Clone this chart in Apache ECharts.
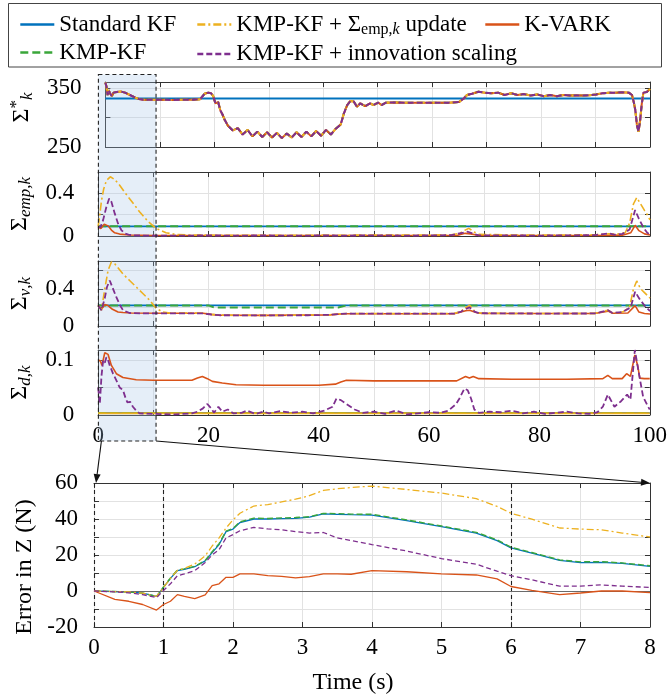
<!DOCTYPE html>
<html><head><meta charset="utf-8">
<script src="https://cdn.jsdelivr.net/npm/echarts@6/dist/echarts.min.js"></script>
<style>html,body{margin:0;padding:0;background:#fff}#c{width:670px;height:696px}</style>
</head><body><div id="c"></div><script>
const N_KF = 'Standard KF', N_Y = 'KMP-KF + Σemp,k update', N_O = 'K-VARK', N_G = 'KMP-KF', N_P = 'KMP-KF + innovation scaling';
const tConst = [0, 100];
const starKF = [332, 332];
const tStar = [0,0.2,0.4,0.6,0.9,1.2,1.5,2.1,2.8,3.6,4.5,5.4,6.2,6.9,8,10,12,14,16,17.4,18.2,18.9,19.4,19.8,20.2,20.7,21.1,21.5,21.9,22.5,23.4,24.3,25.2,26.1,27,27.9,28.8,29.7,30.6,31.5,32.4,33.3,34.2,35.1,36,36.9,37.8,38.7,39.6,40.5,41.4,42.3,43.2,43.8,44.4,45,45.6,46.2,46.8,47.7,48.6,49.2,50.1,50.7,51.5,53,55,57,59,61,63,64.9,65.8,66.4,67.3,68.5,69.7,70.9,72.1,73.3,74.5,75.7,76.9,78.1,79.3,80.5,81.7,82.9,84.1,85.3,86.5,87.7,88.9,90.1,91.3,92.5,93.7,94.9,96.1,96.7,97,97.3,97.6,97.9,98.2,98.5,98.8,99.4,100];
const starKMP = [359,352,338,346,340,336,342,343,344,342,338,334,331,330,330,330,329.5,330,330,331,340,342,341,336,324,326,312,305,296,286,278,282,271,279,268,276,267,275,266,274,265,273,266,275,267,276,268,277,269,279,271,281,288,307,321,328,327,318,324,319,324,321,325,321,325,325.5,325,325,325,325,325,326,332,338,340,343.6,342,341,342,338,341,338,339.5,337,339,336,338,336,338,337,337.5,337,337.5,339,341,342,342,342.5,342,338,326.7,312.6,287,276,296,324,342,343,348];
const empKF = [0.09, 0.09];
const empKMP = [0.092, 0.092];
const tEmpY = [0,0.3,0.6,1,1.5,2.2,3,3.9,4.8,5.7,6.6,7.5,8.3,9.1,10.5,12.3,14,16,20,25,30,35,40,45,50,55,60,64,65.5,66.5,67.2,68,69,75,80,85,90,92.5,94,95.5,96.3,97,97.6,98.3,99,99.5,100];
const empY = [0.09,0.2,0.33,0.44,0.52,0.555,0.53,0.476,0.41,0.35,0.29,0.227,0.18,0.133,0.072,0.03,0.015,0.01,0.008,0.006,0.007,0.006,0.008,0.007,0.01,0.008,0.009,0.012,0.025,0.055,0.072,0.04,0.015,0.01,0.008,0.01,0.012,0.02,0.018,0.03,0.12,0.3,0.36,0.3,0.24,0.2,0.15];
const tEmpP = [0,0.4,0.9,1.5,2.0,2.4,3.0,3.6,4.2,4.8,5.5,6.5,8,12,16,20,25,30,35,40,45,50,55,60,64,66,67,68,69,75,80,85,90,92.5,93.5,95,96.3,97.3,98,98.8,99.5,100];
const empP = [0.09,0.08,0.149,0.274,0.351,0.32,0.212,0.118,0.056,0.025,0.012,0.006,0.004,0.003,0.004,0.005,0.004,0.005,0.003,0.005,0.004,0.006,0.004,0.005,0.008,0.03,0.04,0.02,0.006,0.005,0.004,0.006,0.008,0.025,0.012,0.02,0.06,0.243,0.16,0.08,0.03,0.015];
const tEmpO = [0,0.5,1.1,1.8,2.4,3.0,3.9,5.7,10,20,30,40,50,60,65,66.5,67.5,69,80,90,95,96.5,97.3,98,99,100];
const empO = [0.087,0.07,0.11,0.095,0.056,0.03,0.018,0.009,0.005,0.004,0.004,0.004,0.004,0.004,0.005,0.025,0.02,0.005,0.004,0.005,0.008,0.03,0.1,0.05,0.02,0.01];
const nuKF = [0.222, 0.222];
const tNuG = [0, 20, 21, 43.5, 45, 100];
const nuG = [0.222, 0.222, 0.2, 0.2, 0.222, 0.222];
const tNuY = [0,0.6,1.2,1.8,2.4,3,4.5,5.7,6.9,8.1,9.3,10.5,11.7,13,16,19,20.5,22,26,30,34,38,42,43.5,45,50,55,60,64.5,65.8,66.6,67.3,68.2,69,75,80,85,90,92.4,93.2,95,96.3,97,97.6,98.3,99,99.5,100];
const nuY = [0.222,0.17,0.4,0.6,0.69,0.67,0.56,0.49,0.42,0.35,0.28,0.19,0.15,0.14,0.14,0.138,0.125,0.117,0.116,0.114,0.115,0.117,0.12,0.128,0.135,0.134,0.133,0.133,0.135,0.16,0.2,0.223,0.16,0.14,0.135,0.134,0.134,0.136,0.17,0.14,0.15,0.2,0.4,0.485,0.4,0.36,0.33,0.3];
const tNuP = [0,0.6,1.2,1.6,2.1,2.7,3.3,3.9,4.5,5.7,8,13,19,20.5,22,30,38,42,43.5,45,55,64.5,65.8,66.6,67.3,68.2,69,80,90,92.4,93.2,95,96.5,97.3,98,99,100];
const nuP = [0.222,0.17,0.3,0.42,0.49,0.4,0.31,0.23,0.17,0.14,0.135,0.135,0.136,0.124,0.116,0.114,0.116,0.12,0.128,0.134,0.133,0.134,0.155,0.185,0.2,0.155,0.138,0.134,0.135,0.17,0.14,0.15,0.2,0.37,0.3,0.22,0.16];
const tNuO = [0,0.6,1.2,1.8,2.6,3.6,4.5,6,13,19,20.5,22,30,42,43.5,45,64.5,66.6,67.3,68.5,69.5,90,92.4,93.2,96,97.3,98,99,100];
const nuO = [0.222,0.18,0.23,0.22,0.18,0.15,0.145,0.14,0.138,0.137,0.125,0.116,0.114,0.12,0.128,0.132,0.132,0.165,0.17,0.145,0.134,0.134,0.16,0.138,0.14,0.22,0.15,0.135,0.13];
const dKF = [0.0035, 0.0035];
const dKMP = [0.0035, 0.0035];
const dY = [0.003, 0.003];
const tDO = [0,0.4,0.7,1.2,1.8,2.4,3.3,4.5,6.9,10,17,18,18.9,19.8,20.7,22.5,25,30,35,40,43,44,45,50,55,60,65,66.6,67.3,68,69,75,80,85,91.5,92.4,93.2,95,95.8,96.5,97.3,97.8,98.2,99,100];
const dO = [0.1,0.098,0.09,0.113,0.11,0.09,0.075,0.068,0.064,0.063,0.063,0.067,0.07,0.066,0.061,0.058,0.055,0.054,0.054,0.054,0.056,0.06,0.063,0.062,0.062,0.062,0.062,0.07,0.067,0.07,0.066,0.065,0.065,0.065,0.066,0.072,0.066,0.066,0.075,0.07,0.109,0.09,0.067,0.066,0.066];
const tDP = [0,0.3,0.6,0.9,1.2,1.5,1.8,2.1,2.7,3.3,3.9,4.5,5.0,5.3,5.8,6.3,6.9,7.5,10,14,17,18,19,19.8,20.5,21,21.8,22.5,23.5,24.5,26,27,28.5,30,31,33,35,37,39,41,42.5,43.2,44,45,46.5,48,50,52,54,56,58,60,62,63.5,64.9,65.5,66.4,67,67.6,68.2,69,71,73,75,77,79,81,83,85,87,89,90.5,91.5,92.4,93.6,94.8,95.9,96.5,97.3,97.6,98.2,98.8,99.7,100];
const dP = [0.05,0.02,0.07,0.099,0.095,0.105,0.1,0.09,0.075,0.063,0.05,0.045,0.03,0.023,0.024,0.015,0.008,0.003,0.002,0.001,0.003,0.006,0.012,0.02,0.012,0.004,0.015,0.006,0.01,0.003,0.004,0.008,0.002,0.006,0.003,0.007,0.004,0.006,0.003,0.008,0.015,0.03,0.027,0.02,0.01,0.004,0.006,0.002,0.008,0.001,0.003,0.005,0.004,0.008,0.02,0.03,0.048,0.045,0.03,0.01,0.004,0.006,0.005,0.008,0.003,0.006,0.002,0.004,0.006,0.003,0.002,0.005,0.015,0.037,0.015,0.025,0.037,0.028,0.118,0.115,0.066,0.033,0.015,0.01];
const tErr = [0,0.3,0.5,0.7,0.9,1.0,1.1,1.2,1.3,1.45,1.6,1.7,1.8,1.9,2.0,2.1,2.3,2.5,2.7,2.9,3.1,3.3,3.5,3.7,4.0,4.5,5.0,5.5,5.8,6.0,6.3,6.7,7.0,7.3,7.6,8.0];
const errKF = [0,-0.3,-0.5,-1.2,-3,2,7,11.3,12,13.5,16.7,21.3,25.8,33,34.4,38,40,40,40.2,40.4,41,42.8,42.6,42.4,42.2,39.1,35.8,32.2,28,24,21,17,15.8,15.9,15.3,13.7];
const errKMP = [0,-0.3,-0.5,-1.2,-3,2.2,7.2,11.6,12.3,13.7,17,21.8,26.3,33.3,34.8,38.4,40.5,40.3,40.6,40.8,41.3,43.1,43,42.7,42.6,39.5,36.1,32.6,28.4,24.3,21.4,17.3,16.2,16.3,15.6,14];
const errY = [0,-0.3,-0.5,-1.2,-3,2,7,11.5,12.5,15,19.5,25,29.5,35,39.5,43.2,47.2,48,49.5,51,53,55.9,56.8,57.5,58.3,56.4,54.4,51.3,47,43.2,39.9,35,34.4,34,32.2,30];
const errP = [0,-0.5,-1,-2,-3.7,0.3,4,8.5,9.5,11.3,15.8,20,23,29.5,31.3,33.5,35.3,34.5,34,33,32.2,32.5,29.5,28,25.8,22.2,18,14.9,11,8.5,6.2,2.7,2.7,3.4,2.7,2];
const errO = [0,-4.6,-5.7,-7.5,-10.6,-7.5,-5.7,-2,-3,-4.2,-2.2,3,4,7.6,7.6,9.5,9.5,8.5,8.1,7.3,8,9.5,9.5,9.3,11.3,10.7,9.5,8.9,6.7,2.5,0.3,-2,-1.1,0,0,-0.9];
const xTopRange = [0, 100, 10], xTopLabels = [0, 20, 40, 60, 80, 100];
const xBotRange = [0, 8, 1];
const yRanges = [[250, 360, 50], [0, 0.6, 0.2], [0, 0.7, 0.2], [0, 0.118, 0.05], [-20, 60, 10]];
const yLabels = [[250, 350], [0, 0.4], [0, 0.4], [0, 0.1], [-20, 0, 20, 40, 60]];

const FONT = '"Liberation Serif","Times New Roman",serif';
const C = {KF:'#0072BD', G:'#3aa63a', Y:'#EDB120', O:'#D95319', P:'#7E2F8E'};
const grids = [
  {left:95, top:82, width:555, height:65},
  {left:95, top:172, width:555, height:64},
  {left:95, top:261, width:555, height:65},
  {left:95, top:350, width:555, height:65},
  {left:94, top:483, width:556, height:146}
];
const AX = '#333';
const xAxes = [], yAxes = [];
const yNames = ['{m|Σ}{sup|*}{sub|k}', '{m|Σ}{sub|emp,k}', '{m|Σ}{sub|ν,k}', '{m|Σ}{sub|d,k}', 'Error in Z (N)'];
const nameRich = {
  m:{fontFamily:FONT, fontSize:24, color:'#000'},
  sub:{fontFamily:FONT, fontSize:17, fontStyle:'italic', color:'#000', padding:[12,0,0,0]},
  sup:{fontFamily:FONT, fontSize:17, color:'#000', padding:[0,0,10,0]}
};
for (let g = 0; g < 5; g++) {
  const bot = g === 4;
  const xr = bot ? xBotRange : xTopRange;
  const [ymin, ymax, yint] = yRanges[g];
  const common = {type:'value', gridIndex:g, min:xr[0], max:xr[1], interval:xr[2]};
  xAxes.push(Object.assign({}, common, {
    position:'bottom',
    axisLine:{show:true, onZero:false, lineStyle:{color:AX, width:1}},
    axisTick:{show:true, inside:true, length:5, lineStyle:{color:AX}},
    axisLabel:{show: g >= 3, margin:9, fontFamily:FONT, fontSize:23, color:'#000',
      formatter: v => bot ? String(v) : (xTopLabels.indexOf(v) >= 0 ? String(v) : '')},
    splitLine:{show:true, lineStyle:{color:'#e2e2e2', width:1}},
    name: bot ? 'Time (s)' : '', nameLocation:'middle', nameGap:44,
    nameTextStyle:{fontFamily:FONT, fontSize:24, color:'#000', padding:[0,38,0,0]}
  }));
  xAxes.push(Object.assign({}, common, {
    position:'top',
    axisLine:{show:true, onZero:false, lineStyle:{color:AX, width:1}},
    axisTick:{show:true, inside:true, length:5, lineStyle:{color:AX}},
    axisLabel:{show:false}, splitLine:{show:false}
  }));
  const yc = {type:'value', gridIndex:g, min:ymin, max:ymax, interval:yint};
  const labs = yLabels[g];
  yAxes.push(Object.assign({}, yc, {
    position:'left',
    axisLine:{show:!bot, onZero:false, lineStyle:{color:AX, width:1}},
    axisTick:{show:true, inside:true, length:5, lineStyle:{color:AX}},
    axisLabel:{show:true, margin: bot ? 16 : 24, fontFamily:FONT, fontSize:23, color:'#000',
      formatter: v => { for (const l of labs) if (Math.abs(l - v) < 1e-9) return String(l); return ''; }},
    splitLine:{show:true, lineStyle:{color:'#e2e2e2', width:1}},
    name: yNames[g], nameLocation:'middle', nameRotate:90,
    nameGap: bot ? 56 : 58,
    nameTextStyle: bot ? {fontFamily:FONT, fontSize:24, color:'#000', padding:[0,24,0,0]}
                       : {fontFamily:FONT, fontSize:24, color:'#000', rich:nameRich, padding: g === 0 ? [0,0,0,14] : 0}
  }));
  yAxes.push(Object.assign({}, yc, {
    position:'right',
    axisLine:{show:true, onZero:false, lineStyle:{color:AX, width:1}},
    axisTick:{show:true, inside:true, length:5, lineStyle:{color:AX}},
    axisLabel:{show:false}, splitLine:{show:false}
  }));
}

function pairs(ts, vs){ return ts.map((t, i) => [t, vs[i]]); }
function ln(name, color, dash, width, ts, vs, g, z, extra){
  return Object.assign({
    type:'line', name, xAxisIndex:2*g, yAxisIndex:2*g, data:pairs(ts, vs),
    symbol:'none', showSymbol:false, animation:false, z,
    lineStyle:{color, width, type:dash}, itemStyle:{color}
  }, extra || {});
}
const DG = [8,4], DP = [6,3], DY = [8,3,2,3];
const DPb = [5,3], DYb = [7,3,2,3], DGb = [6,3];
const series = [
  ln(N_KF, C.KF, 'solid', 2, tConst, starKF, 0, 2),
  ln(N_G, C.G, DG, 2, tStar, starKMP, 0, 3),
  ln(N_O, C.O, 'solid', 2, tStar, starKMP, 0, 4),
  ln(N_Y, C.Y, DY, 2, tStar, starKMP, 0, 5),
  ln(N_P, C.P, DP, 2, tStar, starKMP, 0, 6),
  ln(N_KF, C.KF, 'solid', 1.6, tConst, empKF, 1, 2),
  ln(N_G, C.G, DG, 2, tConst, empKMP, 1, 3),
  ln(N_O, C.O, 'solid', 1.6, tEmpO, empO, 1, 4),
  ln(N_Y, C.Y, DY, 1.6, tEmpY, empY, 1, 5),
  ln(N_P, C.P, DP, 1.8, tEmpP, empP, 1, 6),
  ln(N_KF, C.KF, 'solid', 1.6, tConst, nuKF, 2, 2),
  ln(N_G, C.G, DG, 2, tNuG, nuG, 2, 3),
  ln(N_O, C.O, 'solid', 1.6, tNuO, nuO, 2, 4),
  ln(N_Y, C.Y, DY, 1.6, tNuY, nuY, 2, 5),
  ln(N_P, C.P, DP, 1.8, tNuP, nuP, 2, 6),
  ln(N_KF, C.KF, 'solid', 2, tConst, dKF, 3, 2),
  ln(N_G, C.G, DG, 2, tConst, dKMP, 3, 3),
  ln(N_Y, C.Y, 'solid', 2, tConst, dY, 3, 4),
  ln(N_O, C.O, 'solid', 1.6, tDO, dO, 3, 5),
  ln(N_P, C.P, DP, 1.8, tDP, dP, 3, 6),
  ln(N_KF, C.KF, 'solid', 1.3, tErr, errKF, 4, 3, {
    markLine:{silent:true, symbol:['none','none'], animation:false, label:{show:false},
      data:[
        {xAxis:0, lineStyle:{type:[4,3], color:'#222', width:1.1}},
        {xAxis:1, lineStyle:{type:[4,3], color:'#222', width:1.1}},
        {xAxis:6, lineStyle:{type:[4,3], color:'#222', width:1.1}},
        {yAxis:0, lineStyle:{type:'solid', color:'#6a6a6a', width:1.2}}
      ]}
  }),
  ln(N_G, C.G, DGb, 1.4, tErr, errKMP, 4, 4),
  ln(N_O, C.O, 'solid', 1.3, tErr, errO, 4, 5),
  ln(N_Y, C.Y, DYb, 1.3, tErr, errY, 4, 6),
  ln(N_P, C.P, DPb, 1.3, tErr, errP, 4, 7)
];

const legendBase = {
  orient:'vertical', top:8, itemWidth:34, itemHeight:14, itemGap:5,
  textStyle:{fontFamily:FONT, fontSize:23, color:'#000',
    rich:{sub:{fontFamily:FONT, fontSize:16, color:'#000', padding:[10,0,0,0]},
          subi:{fontFamily:FONT, fontSize:16, fontStyle:'italic', color:'#000', padding:[10,0,0,0]}}},
  lineStyle:{width:2.6}, itemStyle:{opacity:0}, selectedMode:false,
  formatter: n => n === N_Y ? 'KMP-KF + Σ{sub|emp,}{subi|k} update' : n
};
const legends = [
  Object.assign({}, legendBase, {left:14, data:[N_KF, N_G]}),
  Object.assign({}, legendBase, {left:191, data:[N_Y, N_P]}),
  Object.assign({}, legendBase, {left:479, data:[N_O]})
];

const chart = echarts.init(document.getElementById('c'), null, {renderer:'canvas'});
chart.setOption({animation:false, backgroundColor:'#fff', grid:grids, xAxis:xAxes, yAxis:yAxes, legend:legends, series});

const pA = chart.convertToPixel({gridIndex:0}, [0, yRanges[0][1]]);
const pB = chart.convertToPixel({gridIndex:0}, [9.3, yRanges[0][1]]);
const pC = chart.convertToPixel({gridIndex:3}, [0, yRanges[3][0]]);
const pD = chart.convertToPixel({gridIndex:4}, [xBotRange[0], yRanges[4][1]]);
const pE = chart.convertToPixel({gridIndex:4}, [xBotRange[1], yRanges[4][1]]);
const rx0 = pA[0] - 7, rx1 = pB[0], ry0 = pA[1] - 7.5, ry1 = pC[1] + 26;
function arrow(x1, y1, x2, y2){
  const dx = x2 - x1, dy = y2 - y1, L = Math.hypot(dx, dy), ux = dx / L, uy = dy / L;
  const hl = 9, hw = 3.5;
  const bx = x2 - ux * hl, by = y2 - uy * hl;
  return [
    {type:'polyline', z:20, silent:true, shape:{points:[[x1, y1], [bx, by]]}, style:{stroke:'#111', lineWidth:1.1, fill:null}},
    {type:'polygon', z:20, silent:true, shape:{points:[[x2, y2], [bx - uy * hw, by + ux * hw], [bx + uy * hw, by - ux * hw]]}, style:{fill:'#111'}}
  ];
}
const graphics = [
  {type:'rect', z:-1, silent:true, shape:{x:8.5, y:3.5, width:653, height:63.5}, style:{fill:'#fff', stroke:'#444', lineWidth:1}},
  {type:'rect', z:1, silent:true, shape:{x:rx0, y:ry0, width:rx1 - rx0, height:ry1 - ry0}, style:{fill:'rgba(160,195,230,0.28)', stroke:null}},
  {type:'rect', z:20, silent:true, shape:{x:rx0, y:ry0, width:rx1 - rx0, height:ry1 - ry0}, style:{fill:null, stroke:'#222', lineWidth:1.1, lineDash:[4,3]}}
].concat(arrow(rx0 + 3, ry1, pD[0] + 2, pD[1]), arrow(rx1, ry1, pE[0], pE[1]));
chart.setOption({graphic:graphics});
</script></body></html>
